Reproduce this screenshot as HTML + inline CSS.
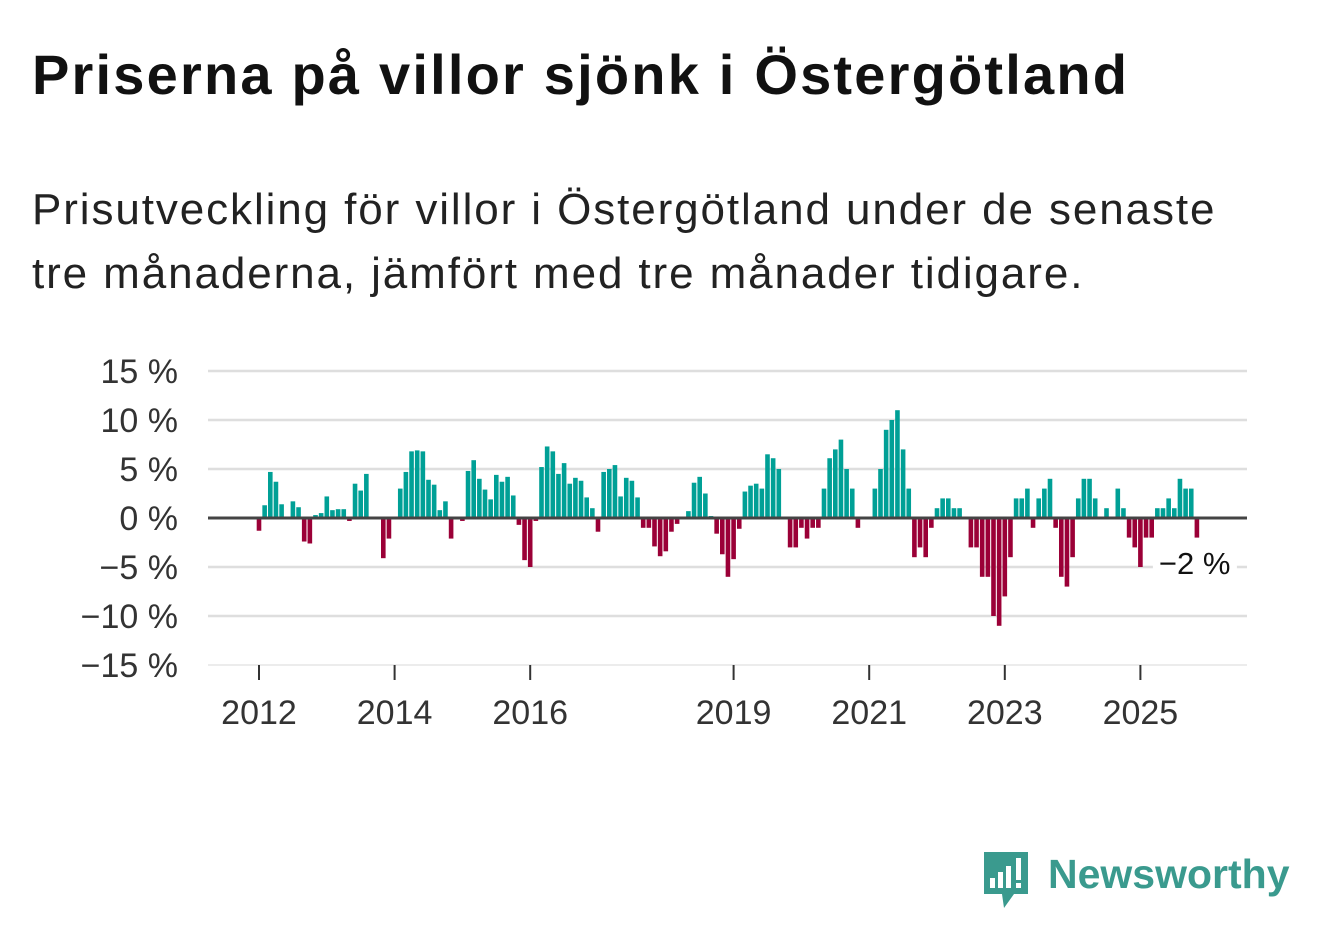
<!DOCTYPE html>
<html><head><meta charset="utf-8">
<style>
body{margin:0;background:#fff;font-family:"Liberation Sans","DejaVu Sans",sans-serif;}
#wrap{position:relative;width:1322px;height:939px;overflow:hidden;background:#fff}
h1{position:absolute;left:32px;top:42px;margin:0;font-size:56px;font-weight:bold;color:#111;letter-spacing:2.2px}
.sub{position:absolute;left:32px;top:178px;margin:0;font-size:44px;line-height:64px;color:#222;width:1280px;letter-spacing:1.9px}
</style></head><body>
<div id="wrap">
<h1>Priserna på villor sjönk i Östergötland</h1>
<p class="sub">Prisutveckling för villor i Östergötland under de senaste<br>tre månaderna, jämfört med tre månader tidigare.</p>
<svg id="chart" width="1322" height="939" style="position:absolute;left:0;top:0"></svg>
<div style="position:absolute;left:980px;top:850px;height:60px">
<svg width="52" height="60" style="position:absolute;left:0;top:0">
<path d="M4 2 H48 V44 H34 L24 58 L22 44 H4 Z" fill="#3a9a8e"/>
<rect x="10" y="28" width="5" height="10" fill="#fff"/><rect x="18" y="22" width="5" height="16" fill="#fff"/><rect x="26" y="16" width="5" height="22" fill="#fff"/><rect x="36" y="8" width="5" height="22" fill="#fff"/><rect x="36" y="33" width="5" height="5" fill="#fff"/>
</svg>
<span style="position:absolute;left:68px;top:1px;font-size:41px;font-weight:bold;color:#3a9a8e;white-space:nowrap">Newsworthy</span>
</div>
</div>
<script>
const startYear = 2012;
const values = [-1.3,1.3,4.7,3.7,1.4,0,1.7,1.1,-2.4,-2.6,0.3,0.5,
2.2,0.8,0.9,0.9,-0.3,3.5,2.8,4.5,0,0,-4.1,-2.1,
0,3.0,4.7,6.8,6.9,6.8,3.9,3.4,0.8,1.7,-2.1,0,
-0.3,4.8,5.9,4.0,2.9,1.9,4.4,3.7,4.2,2.3,-0.7,-4.3,
-5.0,-0.3,5.2,7.3,6.8,4.5,5.6,3.5,4.1,3.8,2.1,1.0,
-1.4,4.7,5.0,5.4,2.2,4.1,3.8,2.1,-1.0,-1.0,-2.9,-3.9,
-3.4,-1.4,-0.6,0,0.7,3.6,4.2,2.5,0.2,-1.6,-3.7,-6.0,
-4.2,-1.1,2.7,3.3,3.5,3.0,6.5,6.1,5.0,0,-3.0,-3.0,
-1.0,-2.1,-1.0,-1.0,3.0,6.1,7.0,8.0,5.0,3.0,-1.0,0,
0,3.0,5.0,9.0,10.0,11.0,7.0,3.0,-4.0,-3.0,-4.0,-1.0,
1.0,2.0,2.0,1.0,1.0,0,-3.0,-3.0,-6.0,-6.0,-10.0,-11.0,
-8.0,-4.0,2.0,2.0,3.0,-1.0,2.0,3.0,4.0,-1.0,-6.0,-7.0,
-4.0,2.0,4.0,4.0,2.0,0,1.0,0,3.0,1.0,-2.0,-3.0,
-5.0,-2.0,-2.0,1.0,1.0,2.0,1.0,4.0,3.0,3.0,-2.0];
const yTicks = [15,10,5,0,-5,-10,-15];
const yTickLabels = ["15 %","10 %","5 %","0 %","−5 %","−10 %","−15 %"];
const xTickYears = [2012,2014,2016,2019,2021,2023,2025];
const lastLabel = "−2 %";

const svg = document.getElementById('chart');
const NS = 'http://www.w3.org/2000/svg';
const x0 = 259, monthW = 5.65, yZero = 518, pxPerPct = 9.8;
const xScale = i => x0 + i*monthW;
const yScale = v => yZero - v*pxPerPct;
function mk(tag, attrs){const e=document.createElementNS(NS,tag);for(const k in attrs)e.setAttribute(k,attrs[k]);svg.appendChild(e);return e;}

yTicks.forEach((t,i)=>{
  if(t!==0){const g=mk('line',{x1:208,x2:1247,y1:yScale(t),y2:yScale(t),stroke:t===-15?'#e6e6e6':'#dedede','stroke-width':t===-15?1.5:2.5});
  
  }
  const tx=mk('text',{x:178,y:yScale(t)+12,'text-anchor':'end','font-size':34,fill:'#333','font-family':'Liberation Sans, sans-serif'});
  tx.textContent=yTickLabels[i];
  
  
});
xTickYears.forEach(yr=>{
  const x=xScale((yr-startYear)*12);
  const l=mk('line',{x1:x,x2:x,y1:665,y2:680,stroke:'#333','stroke-width':2});
  
  
  const t=mk('text',{x:x,y:724,'text-anchor':'middle','font-size':34,fill:'#333','font-family':'Liberation Sans, sans-serif'});
  t.textContent=yr;
  
  
});
values.forEach((v,i)=>{
  if(v===0)return;
  const x=xScale(i)-2.3;
  const y=v>0?yScale(v):yZero;
  const r=mk('rect',{x:x,y:y,width:4.6,height:Math.abs(v)*pxPerPct,fill:v>0?'#00a096':'#9b0037'});
  
  
});
const z=mk('line',{x1:208,x2:1247,y1:yZero,y2:yZero,stroke:'#444','stroke-width':3});


const li=values.length-1;
const bg=mk('rect',{x:xScale(li)-44,y:yScale(-4.6)-18,width:84,height:34,fill:'#fff'});


const lt=mk('text',{x:xScale(li)-38,y:yScale(-4.6)+11,'font-size':31,fill:'#111','font-family':'Liberation Sans, sans-serif'});
lt.textContent=lastLabel;


</script>
</body></html>
